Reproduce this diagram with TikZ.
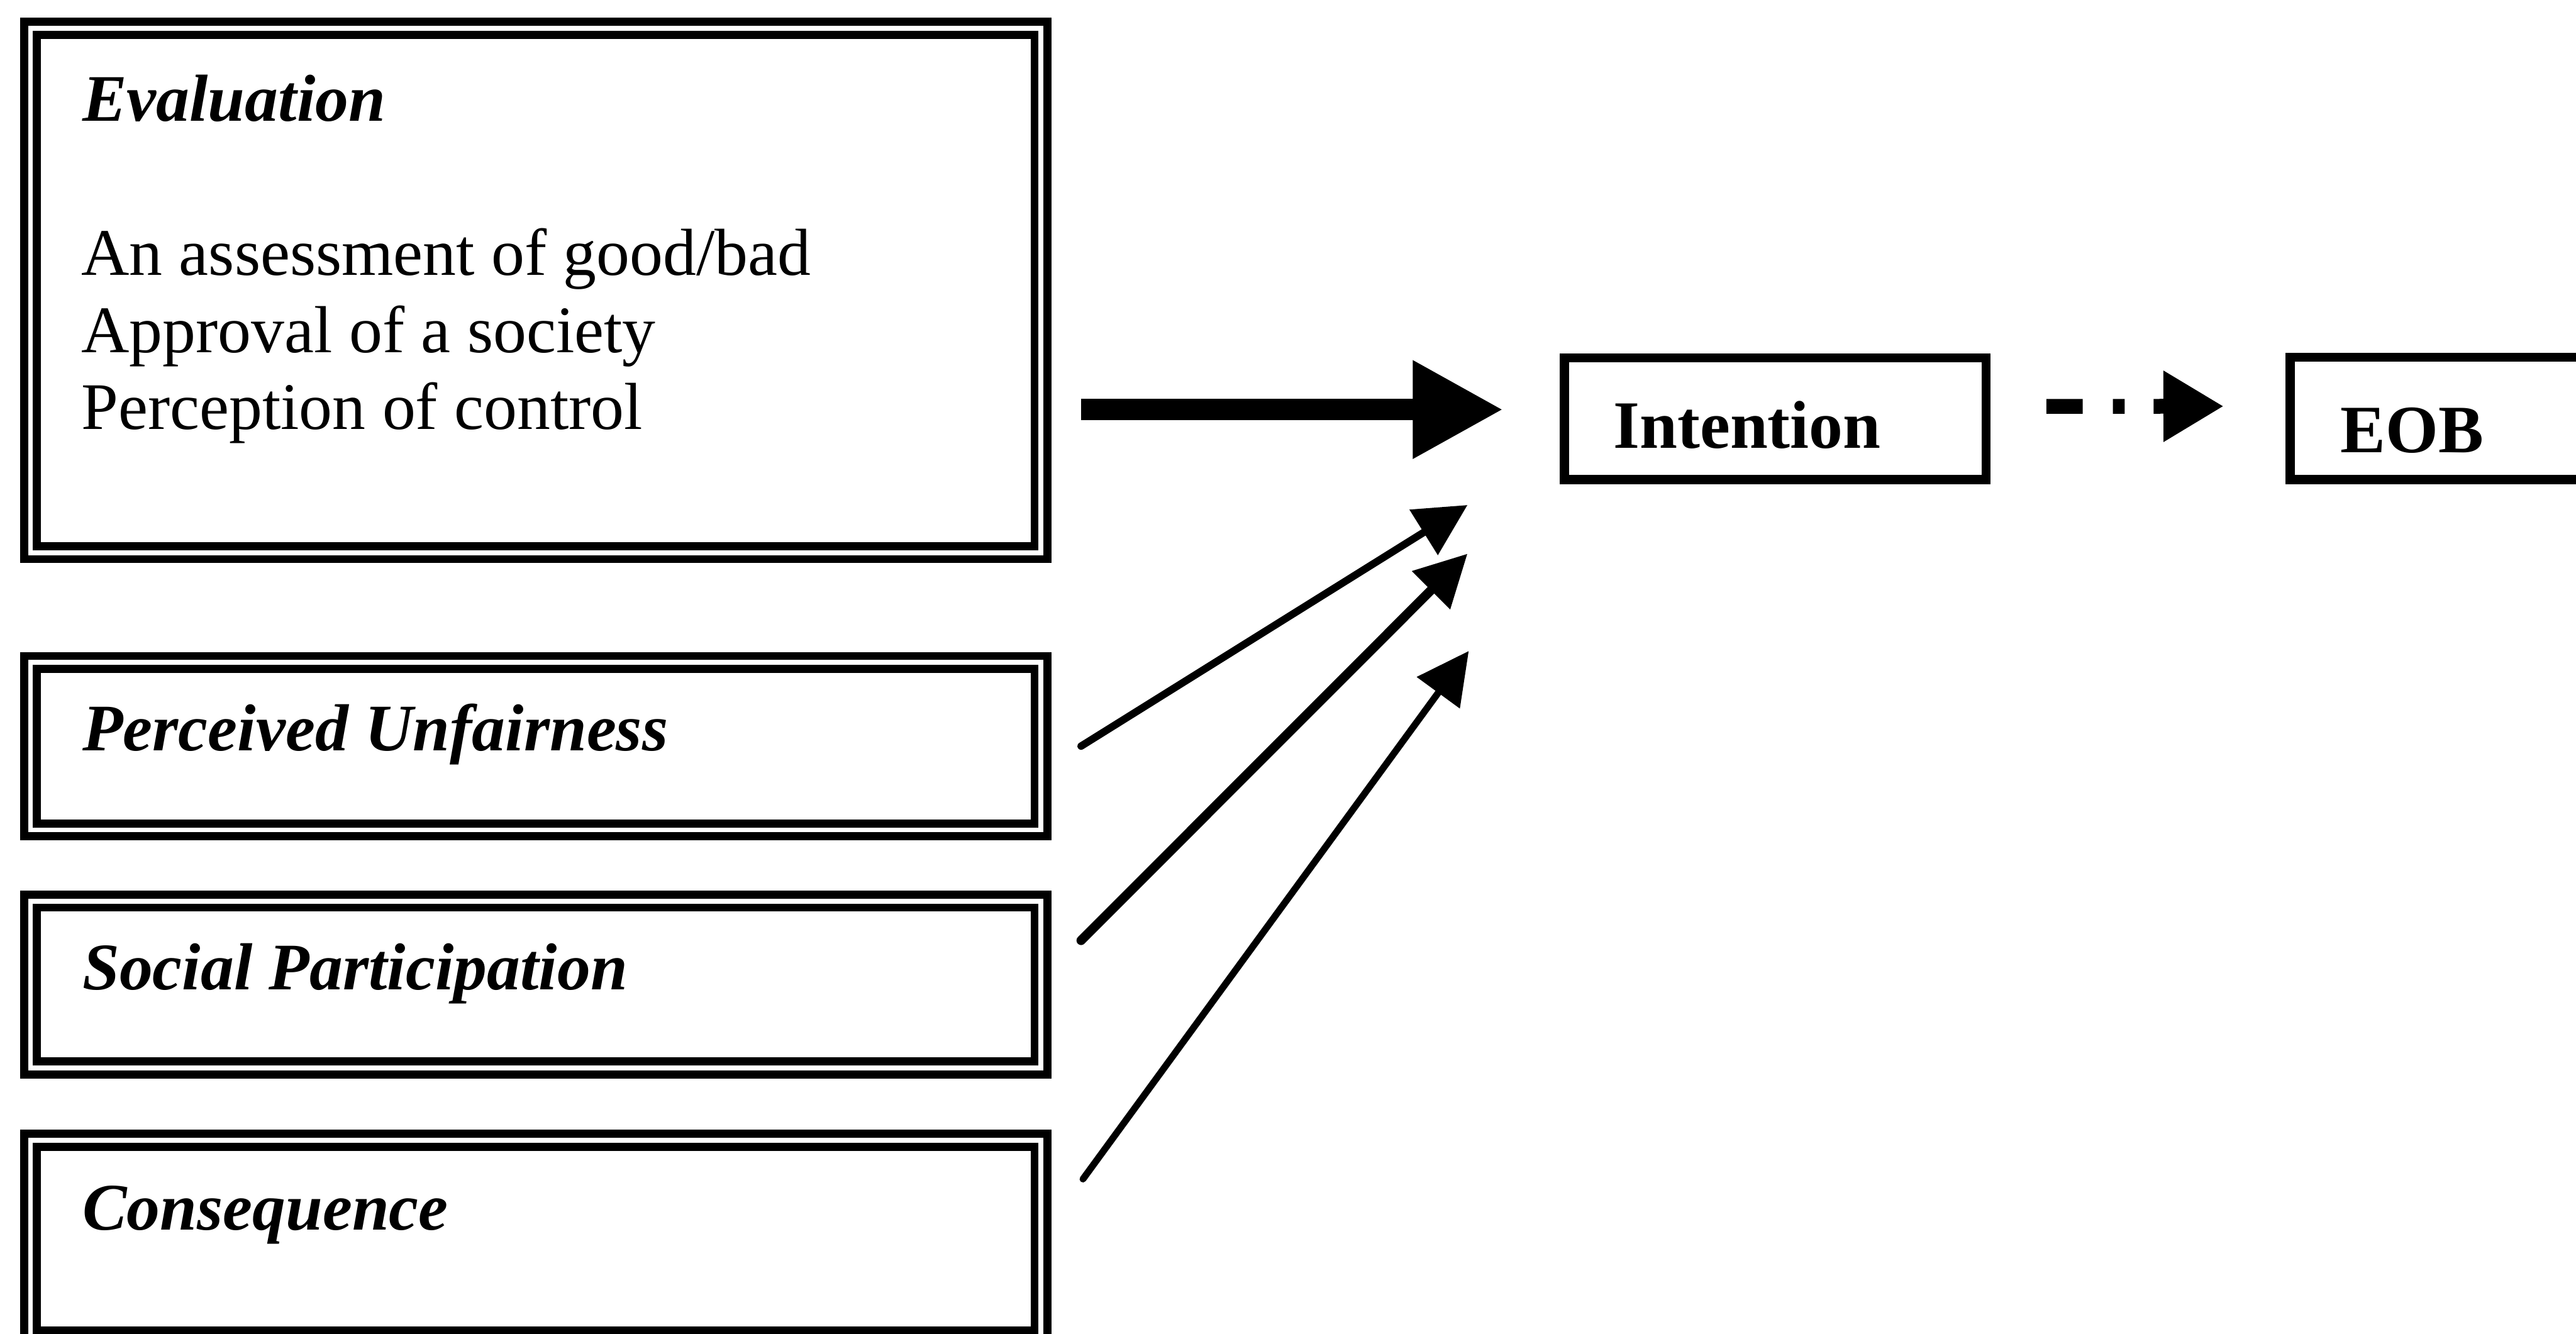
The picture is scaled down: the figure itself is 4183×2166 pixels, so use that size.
\documentclass[tikz,border=0pt]{standalone}
\usepackage{fontspec}
\setmainfont{Liberation Serif}
\usetikzlibrary{arrows.meta}
\begin{document}
\begin{tikzpicture}[x=1pt,y=-1pt,
  dframe/.style={draw, rectangle, line width=13pt, double=white, double distance=8pt,
    outer sep=0pt, inner sep=0pt},
  sframe/.style={draw, rectangle, line width=15pt, outer sep=0pt, inner sep=0pt},
  txt/.style={anchor=base west, inner sep=0pt, outer sep=0pt,
    font=\fontsize{108}{125}\selectfont},
  btxt/.style={anchor=base west, inner sep=0pt, outer sep=0pt,
    font=\fontsize{110}{125}\selectfont\bfseries},
  bigarrow/.style={line width=35pt, -{Triangle[length=147pt,width=150pt]}},
  dasharrow/.style={line width=24pt, dash pattern=on 59pt off 49pt on 19pt off 47pt,
    -{Triangle[length=98pt,width=109pt]}},
  thinarrow/.style={line cap=round, -{Triangle[length=84pt,width=84pt]}}
]
\clip (0,0) rectangle (4183,2166);
\fill[white] (0,0) rectangle (4183,2166);

% left boxes
\node[dframe, anchor=north west, minimum width=1641pt, minimum height=851.5pt] (eval) at (49.5,46) {};
\node[dframe, anchor=north west, minimum width=1641pt, minimum height=272pt] (pu) at (49.5,1075.5) {};
\node[dframe, anchor=north west, minimum width=1641pt, minimum height=271pt] (sp) at (49.5,1463) {};
\node[dframe, anchor=north west, minimum width=1641pt, minimum height=319pt] (cq) at (49.5,1851.5) {};

% texts in left boxes
\node[txt] (evtitle) at (134,197) {\bfseries\itshape Evaluation};
\node[txt] (ev1) at (132,447) {An assessment of good/bad};
\node[txt] (ev2) at (132,572) {Approval of a society};
\node[txt] (ev3) at (132,697) {Perception of control};
\node[txt] (putxt) at (134,1219) {\bfseries\itshape Perceived Unfairness};
\node[txt] (sptxt) at (134,1607) {\bfseries\itshape Social Participation};
\node[txt] (cqtxt) at (134,1997) {\bfseries\itshape Consequence};

% right boxes
\node[sframe, anchor=north west, minimum width=685pt, minimum height=198pt] (intent) at (2540,581) {};
\node[btxt] (intenttxt) at (2620,728) {Intention};
\node[sframe, anchor=north west, minimum width=700pt, minimum height=199pt] (eob) at (3719,580) {};
\node[btxt] (eobtxt) at (3801,735) {EOB};

% arrows
\coordinate (bigend) at ([yshift=15pt]intent.west);
\draw[bigarrow, shorten <=64.5pt, shorten >=99pt] (eval.east |- bigend) -- (bigend);
\draw[dasharrow, shorten <=98pt, shorten >=108pt] ([yshift=20pt]intent.east) -- ([yshift=20pt]eob.west);

\coordinate (t1) at (2383,820);
\coordinate (t2) at (2383,899);
\coordinate (t3) at (2385,1057);
\draw[thinarrow, line width=12pt] ([xshift=65pt]pu.east) -- (t1);
\draw[thinarrow, line width=15pt] ([xshift=65pt,yshift=71.5pt]sp.east) -- (t2);
\draw[thinarrow, line width=11pt] ([xshift=68pt,yshift=96.5pt]cq.east) -- (t3);
\end{tikzpicture}
\end{document}
